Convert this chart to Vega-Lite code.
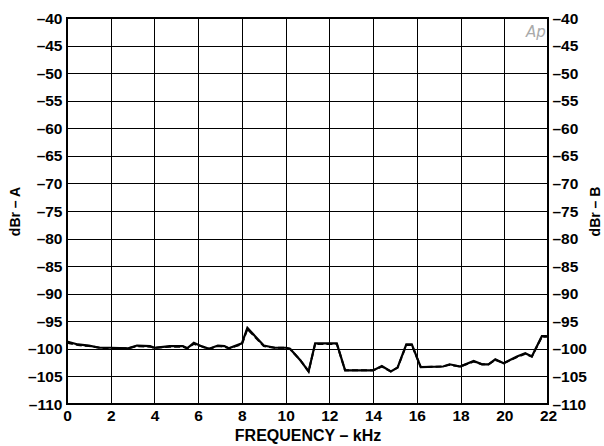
{
  "$schema": "https://vega.github.io/schema/vega-lite/v6.json",
  "width": 481,
  "height": 386,
  "autosize": {"type": "none"},
  "padding": {"left": 67, "top": 18, "right": 56, "bottom": 42},
  "background": "white",
  "config": {
    "view": {"stroke": "black", "strokeWidth": 2},
    "font": "Liberation Sans",
    "axis": {
      "labelFont": "Liberation Sans", "labelFontWeight": "bold", "labelFontSize": 15.5, "labelColor": "black",
      "titleFont": "Liberation Sans", "titleFontWeight": "bold", "titleFontSize": 14, "titleColor": "black",
      "ticks": false, "domain": false, "gridColor": "black", "gridWidth": 1, "gridOpacity": 1
    }
  },
  "datasets": {
    "curve": [
      {"f": 0, "a": -98.7, "b": -98.9},
      {"f": 0.5, "a": -99.2, "b": -99.3},
      {"f": 1.0, "a": -99.4, "b": -99.5},
      {"f": 1.5, "a": -99.8, "b": -99.8},
      {"f": 2.0, "a": -99.8, "b": -99.9},
      {"f": 2.8, "a": -99.9, "b": -99.9},
      {"f": 3.2, "a": -99.4, "b": -99.5},
      {"f": 3.8, "a": -99.5, "b": -99.6},
      {"f": 4.0, "a": -99.8, "b": -99.8},
      {"f": 4.7, "a": -99.5, "b": -99.6},
      {"f": 5.3, "a": -99.5, "b": -99.6},
      {"f": 5.5, "a": -99.9, "b": -99.9},
      {"f": 5.8, "a": -98.9, "b": -99.1},
      {"f": 6.2, "a": -99.6, "b": -99.6},
      {"f": 6.5, "a": -100.0, "b": -100.0},
      {"f": 6.9, "a": -99.4, "b": -99.5},
      {"f": 7.2, "a": -99.5, "b": -99.6},
      {"f": 7.4, "a": -99.9, "b": -99.9},
      {"f": 8.0, "a": -99.0, "b": -99.2},
      {"f": 8.25, "a": -96.2, "b": -96.4},
      {"f": 9.0, "a": -99.4, "b": -99.5},
      {"f": 9.5, "a": -99.8, "b": -99.8},
      {"f": 10.0, "a": -99.8, "b": -99.8},
      {"f": 10.2, "a": -100.0, "b": -100.0},
      {"f": 10.66, "a": -102.0, "b": -102.0},
      {"f": 11.05, "a": -104.1, "b": -104.1},
      {"f": 11.35, "a": -99.0, "b": -99.1},
      {"f": 12.34, "a": -99.0, "b": -99.1},
      {"f": 12.72, "a": -103.9, "b": -103.9},
      {"f": 14.0, "a": -103.9, "b": -103.9},
      {"f": 14.4, "a": -103.1, "b": -103.2},
      {"f": 14.81, "a": -104.1, "b": -104.1},
      {"f": 15.12, "a": -103.4, "b": -103.4},
      {"f": 15.52, "a": -99.2, "b": -99.3},
      {"f": 15.77, "a": -99.2, "b": -99.3},
      {"f": 16.18, "a": -103.3, "b": -103.3},
      {"f": 17.2, "a": -103.2, "b": -103.2},
      {"f": 17.5, "a": -102.8, "b": -102.9},
      {"f": 17.98, "a": -103.2, "b": -103.2},
      {"f": 18.6, "a": -102.2, "b": -102.3},
      {"f": 18.98, "a": -102.8, "b": -102.8},
      {"f": 19.28, "a": -102.8, "b": -102.8},
      {"f": 19.59, "a": -101.9, "b": -102.0},
      {"f": 19.97, "a": -102.6, "b": -102.6},
      {"f": 20.58, "a": -101.4, "b": -101.5},
      {"f": 20.96, "a": -100.8, "b": -100.9},
      {"f": 21.26, "a": -101.4, "b": -101.4},
      {"f": 21.72, "a": -97.7, "b": -97.8},
      {"f": 21.95, "a": -97.7, "b": -97.8}
    ],
    "logo": [{"f": 21.45, "v": -42.6, "t": "Ap"}]
  },
  "layer": [
    {
      "data": {"name": "curve"},
      "mark": {"type": "line", "color": "black", "strokeWidth": 2.2, "clip": true},
      "encoding": {
        "x": {"field": "f", "type": "quantitative", "scale": {"domain": [0, 22], "nice": false},
          "axis": {"values": [0,2,4,6,8,10,12,14,16,18,20,22], "title": "FREQUENCY – kHz", "titleFontSize": 16, "labelPadding": 4, "titlePadding": 4, "labelFlush": false}},
        "y": {"field": "a", "type": "quantitative", "scale": {"domain": [-110, -40], "nice": false, "zero": false},
          "axis": {"values": [-110,-105,-100,-95,-90,-85,-80,-75,-70,-65,-60,-55,-50,-45,-40], "title": "dBr – A",
            "labelExpr": "'–' + abs(datum.value)", "labelPadding": 5, "titlePadding": 5, "labelFlush": false}}
      }
    },
    {
      "data": {"name": "curve"},
      "mark": {"type": "line", "color": "black", "strokeWidth": 2, "strokeDash": [6, 3], "clip": true},
      "encoding": {
        "x": {"field": "f", "type": "quantitative", "scale": {"domain": [0, 22], "nice": false}},
        "y": {"field": "b", "type": "quantitative", "scale": {"domain": [-110, -40], "nice": false, "zero": false},
          "axis": {"orient": "right", "grid": false, "values": [-110,-105,-100,-95,-90,-85,-80,-75,-70,-65,-60,-55,-50,-45,-40], "title": "dBr – B",
            "titleAngle": 270, "labelExpr": "'–' + abs(datum.value)", "labelPadding": 4, "titlePadding": 16, "labelFlush": false}}
      }
    },
    {
      "data": {"name": "logo"},
      "mark": {"type": "text", "font": "DejaVu Sans", "fontStyle": "italic", "fontWeight": 300, "fontSize": 15, "color": "#aaaaaa", "align": "center", "baseline": "middle"},
      "encoding": {
        "x": {"field": "f", "type": "quantitative", "scale": {"domain": [0, 22], "nice": false}},
        "y": {"field": "v", "type": "quantitative", "scale": {"domain": [-110, -40], "nice": false, "zero": false}, "axis": null},
        "text": {"field": "t"}
      }
    }
  ],
  "resolve": {"scale": {"y": "independent"}}
}
